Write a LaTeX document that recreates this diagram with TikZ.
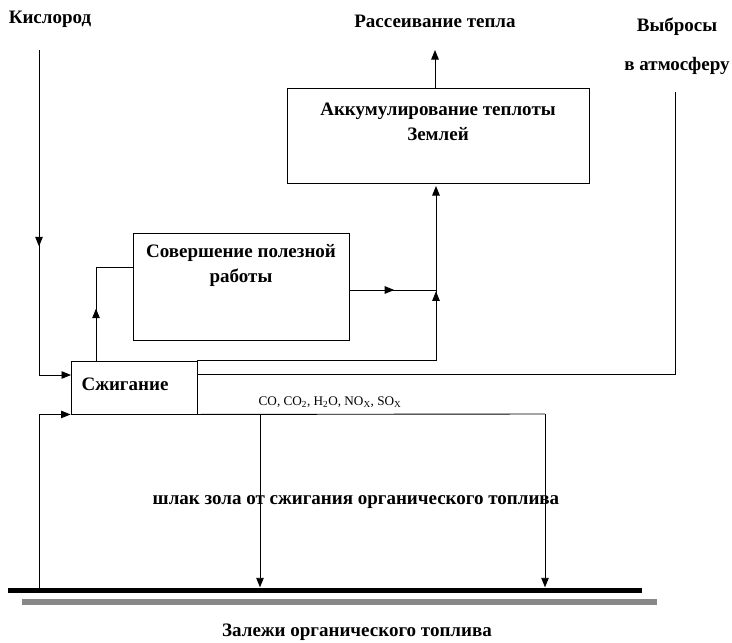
\documentclass[tikz,border=0pt]{standalone}
\usepackage{fontspec}
\setmainfont{Liberation Serif}
\usetikzlibrary{calc,arrows.meta,decorations.markings}
\definecolor{groundgray}{RGB}{136,136,136}
\newcommand{\mysize}[1]{\fontsize{13.2}{15}\selectfont{#1}}
\def\burnwdth{126pt}
\def\burnheight{53pt}
\def\workwdth{216pt}
\def\workheight{107pt}
\def\accumwdth{302pt}
\def\accumheight{95pt}

\begin{document}
\begin{tikzpicture}[x=1pt,y=-1pt,line width=0.9pt,
  box/.style={draw,inner sep=0pt},
  lbl/.style={font=\fontsize{19}{25}\selectfont\bfseries},
  flow/.style={-{Triangle[length=9.5pt,width=7.5pt]}},
  midarrow/.style={decoration={markings,mark=at position #1 with {\arrow{Triangle[length=9.5pt,width=7.5pt]}}},postaction={decorate}}]

\useasboundingbox (0,0) rectangle (732,643);

% SZHIGANIE
\node[box, minimum width=\burnwdth, minimum height=\burnheight] (burn) at (134,387.5) {};
\node[lbl] (burntext) at (125,384) {Сжигание};

% SOVERSHENIE
\node[box, minimum width=\workwdth, minimum height=\workheight] (work) at (241,286.5) {};
\node[lbl, align=center] (worktext) at (241,265) {Совершение полезной\\работы};

% AKKUMULIROVANIE
\node[box, minimum width=\accumwdth, minimum height=\accumheight] (accum) at (438,135.5) {};
\node[lbl, align=center] (accumtext) at (438,122) {Аккумулирование теплоты\\Землей};

% LABELS
\node[lbl] (oxy) at (50,19) {Кислород};
\node[lbl] (diss) at (435,21) {Рассеивание тепла};
\node[lbl] (emis) at (677,27) {Выбросы};
\node[lbl] (emis2) at (677,66) {в атмосферу};
\node[lbl] (slag) at (356,502) {шлак зола от сжигания органического топлива};
\node[lbl] (deposit) at (357,632) {Залежи органического топлива};
\node (gases) at (330,402) {\mysize{CO, CO\textsubscript{2}, H\textsubscript{2}O, NO\textsubscript{X}, SO\textsubscript{X}}};

% GROUND
\node[fill=black, inner sep=0pt, minimum width=634pt, minimum height=5.5pt] (seam) at (325,590.5) {};
\node[fill=groundgray, inner sep=0pt, minimum width=635pt, minimum height=6pt] (ground) at (339.5,602) {};

% POINTS
\coordinate (oxyend) at (39,50);
\coordinate (burnin) at (71,375);
\coordinate (feed) at (39,588);
\coordinate (slagL) at (260,414);
\coordinate (slagR) at (545,414);
\coordinate (burnup) at (96,361);
\coordinate (workin) at (133,267);
\coordinate (workout) at (349,290);
\coordinate (joint) at (436,290);
\coordinate (heatin) at (436,186);
\coordinate (heatout) at (435,88);
\coordinate (dissin) at (435,50);
\coordinate (emisend) at (675,92);
\coordinate (burnright) at (197,374);

% FLOWS
\draw[flow, midarrow=0.55] (oxyend) |- (burnin);
\draw[flow] (feed) |- (burn.south west);
\draw (burn.south east) -- (slagR);
\draw[flow] (slagL) -- (slagL |- seam.north);
\draw[flow] (slagR) -- (slagR |- seam.north);
\draw[midarrow=0.4] (burnup) |- (workin);
\draw[midarrow=0.52] (workout) -- (joint);
\draw[flow, midarrow=0.745] (burn.north east) -| (heatin);
\draw[flow] (heatout) -- (dissin);
\draw (emisend) |- (burnright);
\end{tikzpicture}
\end{document}
